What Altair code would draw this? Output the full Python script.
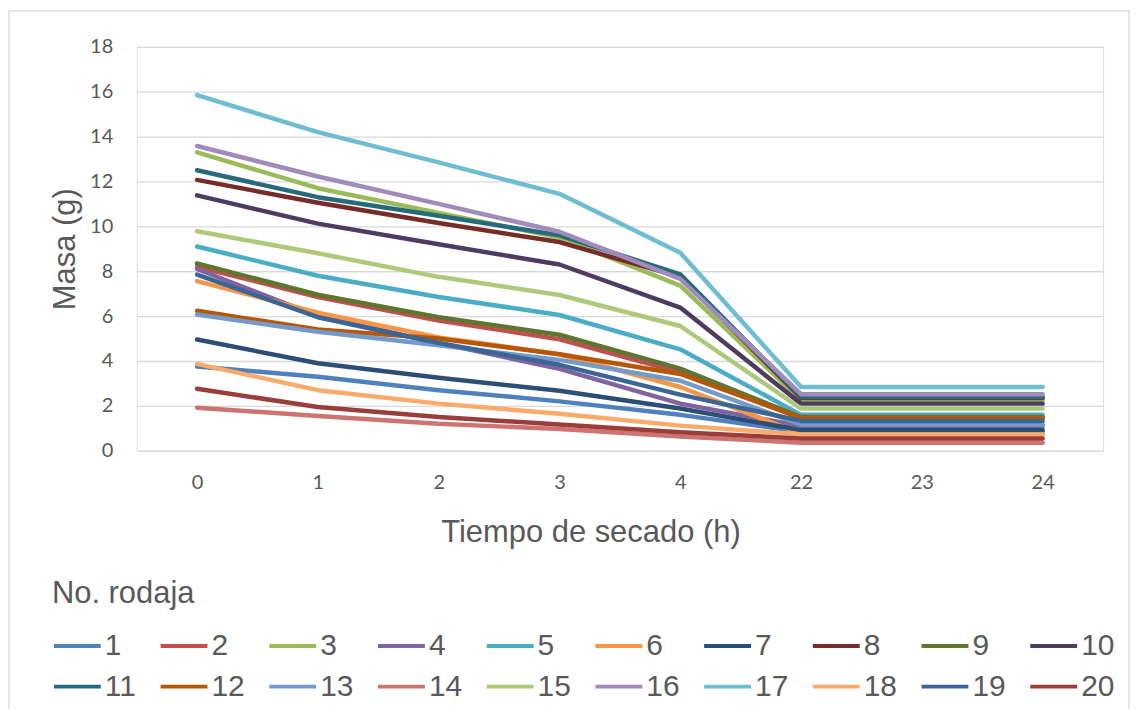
import altair as alt
import pandas as pd

hours = ["0", "1", "2", "3", "4", "22", "23", "24"]
series = [str(i) for i in range(1, 21)]

s1 = [3.75, 3.30, 2.70, 2.20, 1.60, 0.85, 0.85, 0.85]
s2 = [8.20, 6.85, 5.80, 4.97, 3.50, 1.45, 1.45, 1.45]
s3 = [13.30, 11.70, 10.60, 9.50, 7.36, 2.25, 2.25, 2.25]
s4 = [8.10, 6.00, 4.80, 3.65, 2.10, 1.10, 1.10, 1.10]
s5 = [9.10, 7.80, 6.85, 6.05, 4.52, 1.60, 1.60, 1.60]
s6 = [7.56, 6.15, 5.05, 4.30, 2.84, 0.75, 0.75, 0.75]
s7 = [4.96, 3.90, 3.25, 2.67, 1.88, 0.92, 0.92, 0.92]
s8 = [12.07, 11.05, 10.15, 9.30, 7.75, 2.35, 2.35, 2.35]
s9 = [8.35, 6.95, 5.95, 5.17, 3.66, 1.50, 1.50, 1.50]
s10 = [11.38, 10.12, 9.20, 8.30, 6.38, 2.10, 2.10, 2.10]
s11 = [12.50, 11.30, 10.47, 9.60, 7.86, 2.40, 2.40, 2.40]
s12 = [6.24, 5.40, 5.00, 4.30, 3.42, 1.47, 1.47, 1.47]
s13 = [6.07, 5.30, 4.70, 4.05, 3.12, 1.17, 1.17, 1.17]
s14 = [1.92, 1.55, 1.20, 0.97, 0.64, 0.36, 0.36, 0.36]
s15 = [9.78, 8.80, 7.75, 6.94, 5.56, 1.88, 1.88, 1.88]
s16 = [13.58, 12.22, 11.00, 9.76, 7.66, 2.52, 2.52, 2.52]
s17 = [15.85, 14.20, 12.85, 11.45, 8.82, 2.84, 2.84, 2.84]
s18 = [3.87, 2.70, 2.10, 1.65, 1.12, 0.73, 0.73, 0.73]
s19 = [7.85, 5.95, 4.80, 3.83, 2.50, 1.33, 1.33, 1.33]
s20 = [2.76, 1.95, 1.50, 1.17, 0.82, 0.55, 0.55, 0.55]

values = [s1, s2, s3, s4, s5, s6, s7, s8, s9, s10,
          s11, s12, s13, s14, s15, s16, s17, s18, s19, s20]

colors = ["#4F81BD", "#C0504D", "#9BBB59", "#8064A2", "#4BACC6",
          "#F79646", "#2C4D75", "#772C2A", "#5F7530", "#4D3B62",
          "#276A7C", "#B65708", "#729ACA", "#CD7371", "#AFC97A",
          "#A18BBA", "#6FBDD1", "#F9AB6B", "#3A6595", "#9B3D3B"]

rows = []
for name, vals in zip(series, values):
    for h, v in zip(hours, vals):
        rows.append({"rodaja": name, "hora": h, "masa": v})
df = pd.DataFrame(rows)

GRAY = "#595959"
W, H = 969, 405

lines = alt.Chart(df).mark_line(
    strokeWidth=4.5, strokeCap="round", strokeJoin="round"
).encode(
    x=alt.X("hora:O", sort=hours,
            scale=alt.Scale(type="point", padding=0.5),
            axis=alt.Axis(title="Tiempo de secado (h)", labelAngle=0,
                          domain=False, ticks=False, tickSize=0, grid=False,
                          labelFont="Lato", labelFontSize=20, labelColor=GRAY,
                          labelPadding=22,
                          titleFont="Liberation Sans", titleFontSize=31,
                          titleFontWeight="normal", titleColor=GRAY,
                          titleX=455, titleY=91, titleAlign="center",
                          titleBaseline="alphabetic")),
    y=alt.Y("masa:Q",
            scale=alt.Scale(domain=[0, 18], nice=False),
            axis=alt.Axis(title="Masa (g)", values=list(range(0, 19, 2)),
                          domain=False, ticks=False, tickSize=0,
                          grid=True, gridColor="#D9D9D9", gridWidth=1.3,
                          labelFont="Lato", labelFontSize=20, labelColor=GRAY,
                          labelPadding=24,
                          titleFont="Liberation Sans", titleFontSize=31,
                          titleFontWeight="normal", titleColor=GRAY,
                          titleAngle=270, titleX=-62, titleY=202.5,
                          titleAlign="center", titleBaseline="alphabetic")),
    color=alt.Color("rodaja:N", sort=series,
                    scale=alt.Scale(domain=series, range=colors),
                    legend=alt.Legend(
                        title="No. rodaja", orient="none",
                        legendX=-85, legendY=534,
                        direction="horizontal", columns=10,
                        symbolType="stroke", symbolSize=2209,
                        symbolStrokeWidth=4,
                        labelFont="Liberation Sans", labelFontSize=30,
                        labelColor=GRAY, labelOffset=2,
                        titleFont="Liberation Sans", titleFontSize=31,
                        titleFontWeight="normal", titleColor=GRAY,
                        titlePadding=10, rowPadding=0, columnPadding=16,
                        padding=0, gridAlign="each")),
)

frame = alt.Chart(alt.Data(values=[{"a": 1}])).mark_rect(
    fill=None, stroke="#D9D9D9", strokeWidth=1.3
).encode(
    x=alt.value(-128), x2=alt.value(995),
    y=alt.value(-36), y2=alt.value(720),
)

chart = alt.layer(frame, lines).properties(
    width=W, height=H,
    autosize=alt.AutoSizeParams(type="none"),
    padding={"left": 129, "top": 38, "right": 28, "bottom": 258},
).configure_view(stroke=None).configure(background="white")

chart.save("out.html", embed_options={"renderer": "svg", "actions": False})
